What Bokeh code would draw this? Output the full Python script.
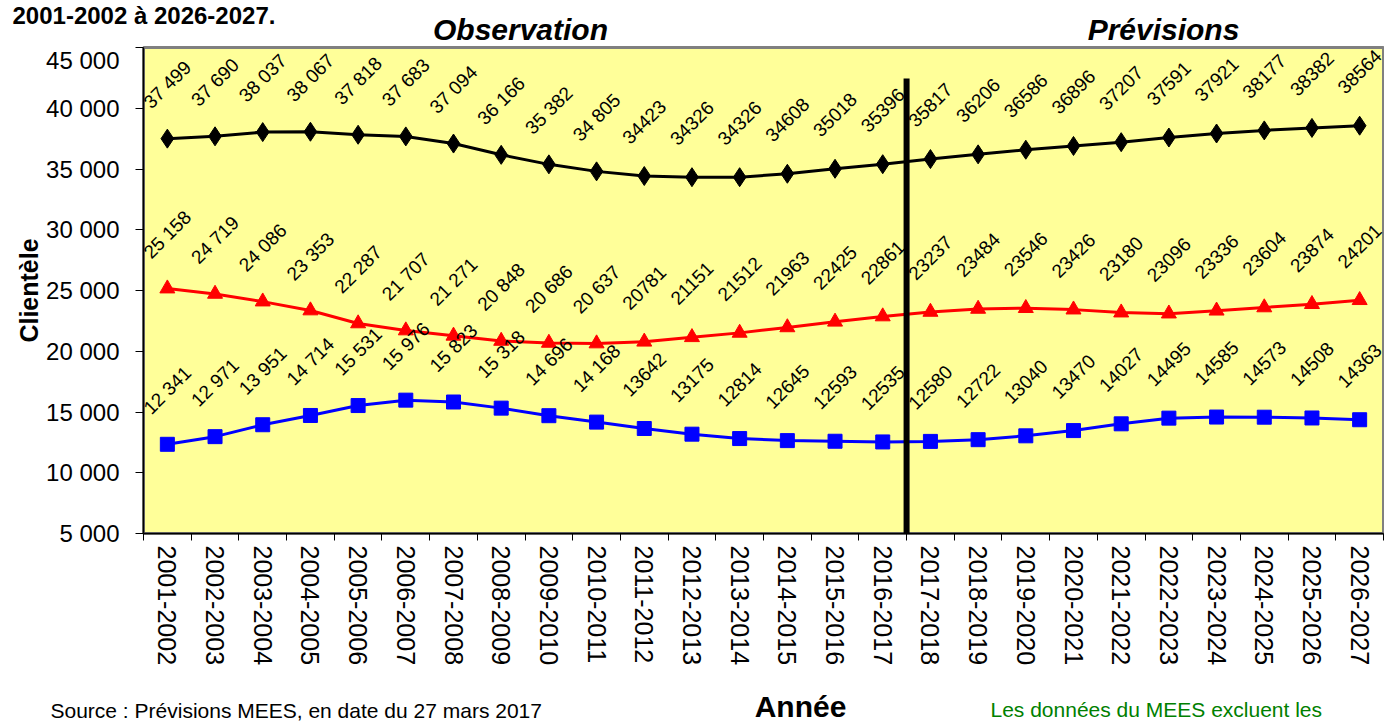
from bokeh.plotting import figure
from bokeh.layouts import column
from bokeh.models import Range1d, LinearAxis, FixedTicker
from bokeh.core.properties import value
from bokeh.embed import file_html
from bokeh.resources import INLINE

years = ["2001-2002", "2002-2003", "2003-2004", "2004-2005", "2005-2006", "2006-2007",
         "2007-2008", "2008-2009", "2009-2010", "2010-2011", "2011-2012", "2012-2013",
         "2013-2014", "2014-2015", "2015-2016", "2016-2017", "2017-2018", "2018-2019",
         "2019-2020", "2020-2021", "2021-2022", "2022-2023", "2023-2024", "2024-2025",
         "2025-2026", "2026-2027"]
total = [37499, 37690, 38037, 38067, 37818, 37683, 37094, 36166, 35382, 34805, 34423, 34326,
         34326, 34608, 35018, 35396, 35817, 36206, 36586, 36896, 37207, 37591, 37921, 38177,
         38382, 38564]
serie_rouge = [25158, 24719, 24086, 23353, 22287, 21707, 21271, 20848, 20686, 20637, 20781,
               21151, 21512, 21963, 22425, 22861, 23237, 23484, 23546, 23426, 23180, 23096,
               23336, 23604, 23874, 24201]
serie_bleue = [12341, 12971, 13951, 14714, 15531, 15976, 15823, 15318, 14696, 14168, 13642,
               13175, 12814, 12645, 12593, 12535, 12580, 12722, 13040, 13470, 14027, 14495,
               14585, 14573, 14508, 14363]
n_spaced_labels = 10  # first labels are written with a thousands space
y_ticks = [5000, 10000, 15000, 20000, 25000, 30000, 35000, 40000, 45000]
y_tick_labels = ["5 000", "10 000", "15 000", "20 000", "25 000", "30 000", "35 000",
                 "40 000", "45 000"]
split_year_index = 16  # boundary between observation and forecasts
separator_top = 42450

FONT = "Liberation Sans"
W = 1384
n = len(years)
xs = [i + 0.5 for i in range(n)]  # category centres


def fmt(vals):
    out = []
    for i, v in enumerate(vals):
        out.append(f"{v:,}".replace(",", " ") if i < n_spaced_labels else str(v))
    return out


def text_strip(y0, y1):
    f = figure(x_range=Range1d(0, W), y_range=Range1d(y1, y0), width=W, height=y1 - y0,
               output_backend="svg", toolbar_location=None,
               x_axis_location=None, y_axis_location=None,
               min_border=0, outline_line_color=None, frame_align=False)
    f.grid.visible = False
    return f


# ---- top strip : titles (page pixel coordinates)
top = text_strip(0, 46)
top.text([12], [1], text=["2001-2002 à 2026-2027."], text_font=value(FONT),
         text_font_size="24px", text_font_style="bold", text_baseline="top",
         text_color="black")
top.text([520, 1163], [12, 12], text=["Observation", "Prévisions"], text_font=value(FONT),
         text_font_size="30px", text_font_style="bold italic", text_align="center",
         text_baseline="top", text_color="black")

# ---- main chart
p = figure(x_range=Range1d(0, n), y_range=Range1d(5000, 45000),
           width=W, height=642, output_backend="svg", toolbar_location=None,
           x_axis_location=None, y_axis_location=None, frame_align=False,
           min_border_left=143, min_border_right=1, min_border_top=1, min_border_bottom=155)
p.grid.visible = False
p.background_fill_color = "#FFFF99"
p.border_fill_color = "white"
p.outline_line_color = "#808080"
p.outline_line_width = 3

yaxis = LinearAxis(ticker=FixedTicker(ticks=y_ticks),
                   major_label_overrides={t: l for t, l in zip(y_ticks, y_tick_labels)},
                   axis_label="Clientèle")
yaxis.major_label_text_font = FONT
yaxis.major_label_text_font_size = "24px"
yaxis.major_label_text_color = "black"
yaxis.major_tick_out = 8
yaxis.major_tick_in = 0
yaxis.minor_tick_line_color = None
yaxis.axis_line_color = "black"
yaxis.axis_line_width = 1.5
yaxis.major_label_standoff = 16
yaxis.axis_label_text_font = FONT
yaxis.axis_label_text_font_size = "25px"
yaxis.axis_label_text_font_style = "bold"
yaxis.axis_label_text_color = "black"
yaxis.axis_label_standoff = 0
p.add_layout(yaxis, "left")

xaxis = LinearAxis(ticker=FixedTicker(ticks=xs, minor_ticks=list(range(n + 1))),
                   major_label_overrides={x: y for x, y in zip(xs, years)})
xaxis.major_label_orientation = "vertical"
xaxis.major_label_text_font = FONT
xaxis.major_label_text_font_size = "25px"
xaxis.major_label_text_color = "black"
xaxis.major_tick_line_color = None
xaxis.major_tick_out = 7
xaxis.major_tick_in = 0
xaxis.minor_tick_line_color = "black"
xaxis.minor_tick_out = 7
xaxis.minor_tick_in = 0
xaxis.axis_line_color = "black"
xaxis.axis_line_width = 1.5
xaxis.major_label_standoff = 5
p.add_layout(xaxis, "below")

series = [
    (total, "black", "diamond", 19),
    (serie_rouge, "#FF0000", "triangle", 15),
    (serie_bleue, "#0000FF", "square", 14),
]
for vals, col, mk, sz in series:
    p.line(xs, vals, line_color=col, line_width=3)
    p.scatter(xs, vals, marker=mk, size=sz, fill_color=col, line_color=col)
    p.text(xs, vals, text=fmt(vals), angle=45, angle_units="deg", text_align="center",
           text_baseline="middle", y_offset=-54, text_font=value(FONT),
           text_font_size="19px", text_color="black")

p.segment(x0=[split_year_index], y0=[separator_top], x1=[split_year_index], y1=[y_ticks[0]],
          line_color="black", line_width=6)

# ---- bottom strip : axis title and notes (page pixel coordinates)
bottom = text_strip(688, 723)
bottom.text([800], [689], text=["Année"], text_font=value(FONT), text_font_size="30px",
            text_font_style="bold", text_align="center", text_baseline="top",
            text_color="black")
bottom.text([50], [698], text=["Source : Prévisions MEES, en date du 27 mars 2017"],
            text_font=value(FONT), text_font_size="21px", text_baseline="top",
            text_color="black")
bottom.text([990], [697], text=["Les données du MEES excluent les"], text_font=value(FONT),
            text_font_size="21px", text_baseline="top", text_color="#008000")

layout = column(top, p, bottom, spacing=0)
open("out.html", "w").write(file_html(layout, INLINE))
